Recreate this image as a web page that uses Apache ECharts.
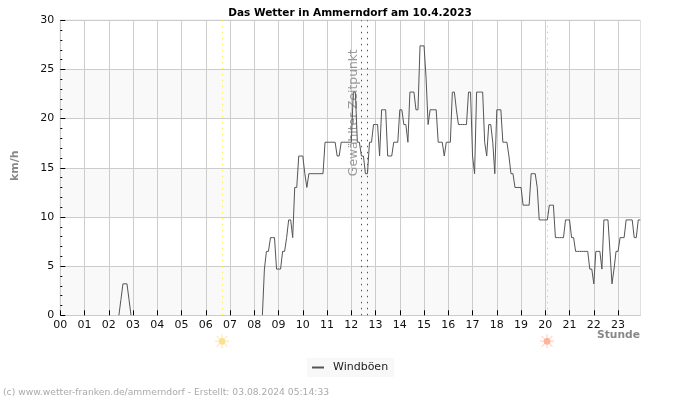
<!DOCTYPE html>
<html><head><meta charset="utf-8">
<style>html,body{margin:0;padding:0;background:#fff}#c{width:700px;height:400px}</style>
<script src="https://cdn.jsdelivr.net/npm/echarts@6/dist/echarts.min.js"></script>
</head><body><div id="c"></div>
<script>
const titleText = 'Das Wetter in Ammerndorf am 10.4.2023';
const footerText = '(c) www.wetter-franken.de/ammerndorf - Erstellt: 03.08.2024 05:14:33';
const seriesName = 'Windböen';
const yTitle = 'km/h';
const xTitle = 'Stunde';
const markerText = 'Gewählter Zeitpunkt';
const hourTicks = [0,1,2,3,4,5,6,7,8,9,10,11,12,13,14,15,16,17,18,19,20,21,22,23];
const sunrise = 6.67, sunset = 20.07;
const selectedTimes = [12.43, 12.66];
const _ = null;
// one row per hour, 5-minute values in km/h
const windGusts = [
 _,_,_,_,_,_,_,_,_,_,_,_,
 _,_,_,_,_,_,_,_,_,_,_,_,
 _,_,_,_,_,0,1.6,3.2,3.2,3.2,1.6,0,
 _,_,_,_,_,_,_,_,_,_,_,_,
 _,_,_,_,_,_,_,_,_,_,_,_,
 _,_,_,_,_,_,_,_,_,_,_,_,
 _,_,_,_,_,_,_,_,_,_,_,_,
 _,_,_,_,_,_,_,_,_,_,_,_,
 _,_,_,_,0,4.7,6.5,6.5,7.9,7.9,7.9,4.7,
 4.7,4.7,6.5,6.5,7.9,9.7,9.7,7.9,13,13,16.2,16.2,
 16.2,14.4,13,14.4,14.4,14.4,14.4,14.4,14.4,14.4,14.4,17.6,
 17.6,17.6,17.6,17.6,17.6,16.2,16.2,17.6,17.6,17.6,17.6,17.6,
 17.6,22.7,22.7,17.6,17.6,16.2,16.2,14.4,14.4,17.6,17.6,19.4,
 19.4,19.4,16.2,20.9,20.9,20.9,16.2,16.2,16.2,17.6,17.6,17.6,
 20.9,20.9,19.4,19.4,17.6,22.7,22.7,22.7,20.9,20.9,27.4,27.4,
 27.4,24.1,19.4,20.9,20.9,20.9,20.9,17.6,17.6,17.6,16.2,17.6,
 17.6,17.6,22.7,22.7,20.9,19.4,19.4,19.4,19.4,19.4,22.7,22.7,
 16.2,14.4,22.7,22.7,22.7,22.7,17.6,16.2,19.4,19.4,17.6,14.4,
 20.9,20.9,20.9,17.6,17.6,17.6,16.2,14.4,14.4,13,13,13,
 13,11.2,11.2,11.2,11.2,14.4,14.4,14.4,13,9.7,9.7,9.7,
 9.7,9.7,11.2,11.2,11.2,7.9,7.9,7.9,7.9,7.9,9.7,9.7,
 9.7,7.9,7.9,6.5,6.5,6.5,6.5,6.5,6.5,6.5,4.7,4.7,
 3.2,6.5,6.5,6.5,4.7,9.7,9.7,9.7,6.5,3.2,4.7,6.5,
 6.5,7.9,7.9,7.9,9.7,9.7,9.7,9.7,7.9,7.9,9.7,9.7
];
const FONT = '"DejaVu Sans"';
const chart = echarts.init(document.getElementById('c'), null, {renderer:'canvas'});
const points = windGusts.map((v,i)=>[i/12, v]);
const pad = h => String(h).padStart(2,'0');
const vLine = (x,color) => ({
  xAxis:x,
  lineStyle:{color, type:[1.5,4.5], width:1}
});
// sun glyph: eight short rays around a centre disc
const RAYS = 'path://M9 0h2v4.5h-2zM9 15.5h2v4.5h-2zM0 9h4.5v2h-4.5zM15.5 9h4.5v2h-4.5zM3 1.6l3.4 3.4-1.4 1.4-3.4-3.4zM15 13.6l3.4 3.4-1.4 1.4-3.4-3.4zM17 1.6l1.4 1.4-3.4 3.4-1.4-1.4zM5 13.6l1.4 1.4-3.4 3.4-1.4-1.4z';
const sun = (x,disc,ray) => [
  {coord:[x,0],symbol:RAYS,symbolSize:14,symbolKeepAspect:true,symbolOffset:[0,26],itemStyle:{color:ray},label:{show:false}},
  {coord:[x,0],symbol:'circle',symbolSize:7,symbolOffset:[0,26],itemStyle:{color:disc},label:{show:false}}
];
chart.setOption({
  animation:false,
  backgroundColor:'#fff',
  title:{text:titleText,left:345,top:3,textAlign:'center',
    textStyle:{fontFamily:FONT,fontSize:10.5,fontWeight:'bold',color:'#000'}},
  legend:{data:[{name:seriesName}],left:307,top:358,padding:[4,6,4,5],itemWidth:12,itemHeight:2,itemGap:6,
    backgroundColor:'#f8f8f8',icon:'rect',
    textStyle:{fontFamily:FONT,fontSize:11,color:'#222',padding:[0,0,0,4]}},
  grid:{left:60.3,right:59.7,top:20.3,bottom:84.7,show:true,borderColor:'#ccc',borderWidth:1,backgroundColor:'transparent'},
  xAxis:{type:'value',min:0,max:23.917,interval:1,
    axisLine:{show:true,onZero:false,lineStyle:{color:'#ccc'}},
    axisTick:{show:true,inside:true,length:5,customValues:hourTicks,lineStyle:{color:'#000'}},
    axisLabel:{customValues:hourTicks,formatter:v=>pad(v),fontFamily:FONT,fontSize:11,color:'#111',margin:4},
    splitLine:{show:true,lineStyle:{color:'#ccc',width:1}},
    minorTick:{show:false}},
  yAxis:{type:'value',min:0,max:30,interval:5,
    axisLine:{show:true,lineStyle:{color:'#ccc'}},
    axisTick:{show:true,inside:true,length:5,lineStyle:{color:'#000'}},
    minorTick:{show:true,splitNumber:5,length:2,lineStyle:{color:'#000'}},
    axisLabel:{fontFamily:FONT,fontSize:11,color:'#111',margin:6},
    splitLine:{show:true,lineStyle:{color:'#ccc',width:1}},
    splitArea:{show:true,areaStyle:{color:['#f9f9f9','#ffffff']}}},
  series:[{
    name:seriesName,type:'line',data:points,symbol:'none',connectNulls:false,
    lineStyle:{color:'#555',width:1},itemStyle:{color:'#555'},z:5,
    markLine:{silent:true,symbol:'none',label:{show:false},animation:false,
      data:[vLine(sunrise,'#fdf05a'),vLine(sunset,'#f5c77e'),vLine(selectedTimes[0],'#555'),vLine(selectedTimes[1],'#555')]},
    markPoint:{silent:true,animation:false,
      data:[
       ...sun(sunrise,'#fde08f','#feeebf'),
       ...sun(sunset,'#ffb49a','#ffdccf'),
       {coord:[selectedTimes[0]-0.33,20.6],symbol:'circle',symbolSize:0,label:{show:true,formatter:markerText,rotate:90,color:'#999',fontFamily:FONT,fontSize:12.3}}
      ]}
  }],
  graphic:[
    {type:'text',left:597,top:330,style:{text:xTitle,fontFamily:FONT,fontSize:10.7,fontWeight:'bold',fill:'#888'}},
    {type:'text',rotation:Math.PI/2,x:10,y:181,style:{text:yTitle,fontFamily:FONT,fontSize:11,fontWeight:'bold',fill:'#888'}},
    {type:'text',left:3,top:388,style:{text:footerText,fontFamily:FONT,fontSize:9.2,fill:'#aaa'}}
  ]
});
</script></body></html>
